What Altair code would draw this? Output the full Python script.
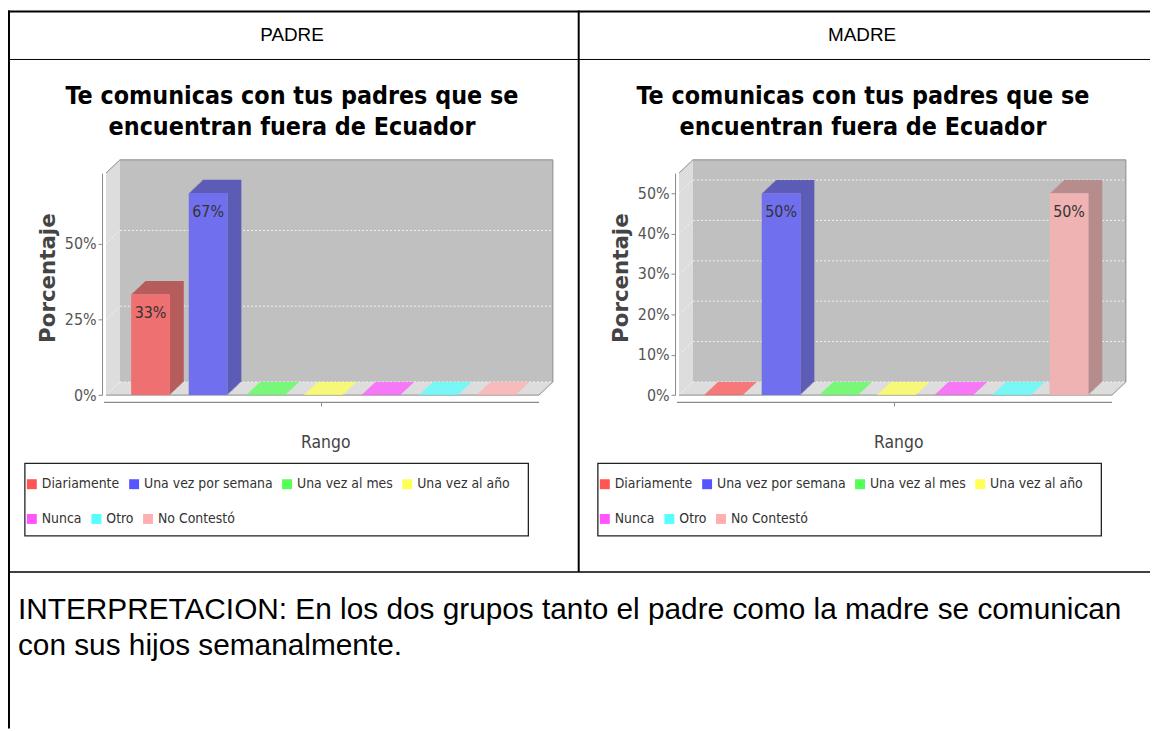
import altair as alt
import pandas as pd

# ---------------- data ----------------
categories = ["Diariamente", "Una vez por semana", "Una vez al mes",
              "Una vez al año", "Nunca", "Otro", "No Contestó"]
padre_values = [0.333, 0.667, 0.0, 0.0, 0.0, 0.0, 0.0]
madre_values = [0.0, 0.5, 0.0, 0.0, 0.0, 0.0, 0.5]
padre_ticks = [0.0, 0.25, 0.5]
madre_ticks = [0.0, 0.1, 0.2, 0.3, 0.4, 0.5]
padre_max = 0.733
madre_max = 0.55
panel_headers = ["PADRE", "MADRE"]
chart_title = ["Te comunicas con tus padres que se", "encuentran fuera de Ecuador"]
x_title = ["Rango"]
y_title = ["Porcentaje"]
interpretation = ["INTERPRETACION: En los dos grupos tanto el padre como la madre se comunican",
                  "con sus hijos semanalmente."]
series_colors = ["#ff5555", "#5555ff", "#55ff55", "#ffff55", "#ff55ff", "#55ffff", "#ffafaf"]

# ---------------- style / layout ----------------
COND = "DejaVu Sans Condensed, sans-serif"
SANS = "Liberation Sans, Arial, sans-serif"
M = 8  # page margin


def P(v):
    return v - M


def shade(hexc, f=0.7, a=0.75, bg=192):
    h = hexc.lstrip("#")
    rgb = [int(h[i:i + 2], 16) for i in (0, 2, 4)]
    out = [round(a * c * f + (1 - a) * bg) for c in rgb]
    return "#" + "".join(f"{c:02x}" for c in out)


dark_colors = [shade(c) for c in series_colors]

AXIS_X = 102.7
FL, FR = 106.7, 542.7
FB, FT = 395.3, 171.7
DX, DY = 14.0, 13.3
XR0, XR1 = 122.5, 528.5
STEP = (XR1 - XR0) / 7
BW = 39.0
PI = 1 - BW / STEP
H = FB - FT
W = FR - FL

dummy = pd.DataFrame({"d": [0]})


def dark_fill():
    cond = alt.when(alt.datum.cat == categories[0]).then(alt.value(dark_colors[0]))
    for c, d in zip(categories[1:], dark_colors[1:]):
        cond = cond.when(alt.datum.cat == c).then(alt.value(d))
    return cond.otherwise(alt.value("#888888"))


def legend_def(x, y, values):
    return alt.Legend(orient="none", legendX=x, legendY=y, values=values,
                      direction="horizontal", columns=len(values),
                      columnPadding=7, symbolType="square",
                      symbolSize=100, symbolStrokeWidth=0, symbolOpacity=1,
                      labelFont=COND, labelFontSize=14, labelColor="#333333",
                      labelOffset=3, title=None, padding=0, labelLimit=400)


def panel(header, values, ticks, ymax, off, hcx, tcx):
    df = pd.DataFrame({"cat": categories, "value": values})
    df["label"] = [f"{round(v * 100)}%" for v in values]
    tdf = pd.DataFrame({"tick": ticks})

    xsc = alt.Scale(domain=categories, range=[P(XR0 + off), P(XR1 + off)],
                    paddingInner=PI, paddingOuter=PI / 2)
    ysc = alt.Scale(domain=[0, ymax], range=[P(FB), P(FT)], nice=False, zero=True)
    yax = alt.Axis(orient="left", offset=-P(AXIS_X + off), values=ticks, format=".0%",
                   domainColor="#8a8a8a", tickColor="#8a8a8a", tickSize=4,
                   labelFont=COND, labelFontSize=16, labelColor="#555555",
                   labelPadding=2, grid=False, title=None)

    def X(**kw):
        return alt.X("cat:N", scale=xsc, axis=None, sort=categories, **kw)

    def Y(field="value"):
        return alt.Y(f"{field}:Q", scale=ysc, axis=yax)

    # legend row 1 (color) and row 2 (fill); fill domain is rotated so that the
    # two legends are not merged into one
    colorenc = alt.Color("cat:N", scale=alt.Scale(domain=categories, range=series_colors),
                         legend=legend_def(P(25 + off), P(478), categories[:4]))
    rot_dom = categories[4:] + categories[:4]
    rot_rng = series_colors[4:] + series_colors[:4]
    fillenc = alt.Fill("cat:N", scale=alt.Scale(domain=rot_dom, range=rot_rng),
                       legend=legend_def(P(25 + off), P(513), categories[4:]))

    layers = []
    # frame: left wall, back wall, floor
    layers.append(alt.Chart(dummy).mark_point(
        shape=f"M0,0L0,{-H:.1f}L{DX},{-H - DY:.1f}L{DX},{-DY}Z", size=4, filled=True,
        color="#dddddd", opacity=1, strokeWidth=0
    ).encode(x=alt.value(P(FL + off)), y=alt.value(P(FB))))
    layers.append(alt.Chart(dummy).mark_rect(color="#c0c0c0").encode(
        x=alt.value(P(FL + DX + off)), x2=alt.value(P(FR + DX + off)),
        y=alt.value(P(FT - DY)), y2=alt.value(P(FB - DY))))
    layers.append(alt.Chart(dummy).mark_point(
        shape=f"M0,0L{W:.1f},0L{W + DX:.1f},{-DY}L{DX},{-DY}Z", size=4, filled=True,
        color="#dddddd", opacity=1, strokeWidth=0
    ).encode(x=alt.value(P(FL + off)), y=alt.value(P(FB))))
    # grid lines on back wall and left wall
    layers.append(alt.Chart(tdf).mark_rule(color="#f2f2f2", strokeDash=[2, 2], strokeWidth=1,
                                           yOffset=-DY).encode(
        x=alt.value(P(FL + DX + off)), x2=alt.value(P(FR + DX + off)), y=Y("tick")))
    layers.append(alt.Chart(tdf).mark_rule(color="#f2f2f2", strokeDash=[2, 2], strokeWidth=1,
                                           y2Offset=-DY).encode(
        x=alt.value(P(FL + off)), x2=alt.value(P(FL + DX + off)), y=Y("tick"),
        y2=alt.Y2("tick:Q")))
    # outline
    layers.append(alt.Chart(dummy).mark_point(
        shape=f"M0,{-H:.1f}L{DX},{-H - DY:.1f}L{W + DX:.1f},{-H - DY:.1f}L{W + DX:.1f},{-DY}L{W:.1f},0L0,0",
        size=4, filled=False, color="#8a8a8a", strokeWidth=1, opacity=1
    ).encode(x=alt.value(P(FL + off)), y=alt.value(P(FB))))
    # category axis line + tick
    layers.append(alt.Chart(dummy).mark_rule(color="#8a8a8a", strokeWidth=1.2).encode(
        x=alt.value(P(AXIS_X + 2 + off)), x2=alt.value(P(FR + off)), y=alt.value(P(402.7))))
    layers.append(alt.Chart(dummy).mark_rule(color="#8a8a8a", strokeWidth=1).encode(
        x=alt.value(P((AXIS_X + 2 + FR) / 2 + off)), y=alt.value(P(402.7)), y2=alt.value(P(406.7))))
    # zero-height bars: top face only
    layers.append(alt.Chart(df).transform_filter("datum.value == 0").mark_point(
        shape=f"M0,0L{BW},0L{BW + DX},{-DY}L{DX},{-DY}Z", size=4, filled=True,
        opacity=0.75, strokeWidth=0
    ).encode(x=X(bandPosition=0), y=Y(), fill=fillenc))
    # 3D depth of bars
    n = 14
    for k in range(n, 0, -1):
        layers.append(alt.Chart(df).transform_filter("datum.value > 0").mark_bar(
            xOffset=k * DX / n, yOffset=-k * DY / n
        ).encode(x=X(), y=Y(), fill=dark_fill()))
    layers.append(alt.Chart(df).transform_filter("datum.value > 0").mark_bar(
        color="#c0c0c0").encode(x=X(), y=Y()))
    layers.append(alt.Chart(df).transform_filter("datum.value > 0").mark_bar(
        opacity=0.75).encode(x=X(), y=Y(), color=colorenc))
    layers.append(alt.Chart(df).transform_filter("datum.value > 0").mark_text(
        baseline="alphabetic", dy=24, font=COND, fontSize=16, color="#333333"
    ).encode(x=X(), y=Y(), text="label:N"))
    # texts
    layers.append(alt.Chart(pd.DataFrame({"t": [header]})).mark_text(
        font=SANS, fontSize=19, color="#000000", align="center", baseline="alphabetic"
    ).encode(x=alt.value(P(hcx)), y=alt.value(P(38.3)), text="t:N"))
    layers.append(alt.Chart(pd.DataFrame({"t": ["\n".join(chart_title)]})).mark_text(
        font=COND, fontWeight="bold", fontSize=25, color="#000000", align="center",
        baseline="alphabetic", lineBreak="\n", lineHeight=31.7
    ).encode(x=alt.value(P(tcx)), y=alt.value(P(101.7)), text="t:N"))
    layers.append(alt.Chart(pd.DataFrame({"t": y_title})).mark_text(
        font="DejaVu Sans", fontWeight="bold", fontSize=21.5, color="#444444", angle=270,
        align="center", baseline="middle"
    ).encode(x=alt.value(P(49 + off)), y=alt.value(P(277.5)), text="t:N"))
    layers.append(alt.Chart(pd.DataFrame({"t": x_title})).mark_text(
        font=COND, fontSize=17.5, color="#444444", align="center", baseline="alphabetic"
    ).encode(x=alt.value(P(328 + off)), y=alt.value(P(448.3)), text="t:N"))
    # legend frame
    layers.append(alt.Chart(dummy).mark_rect(fillOpacity=0, stroke="#222222", strokeWidth=1.3).encode(
        x=alt.value(P(25 + off)), x2=alt.value(P(532 + off)),
        y=alt.value(P(464)), y2=alt.value(P(537))))
    return alt.layer(*layers)


left = panel(panel_headers[0], padre_values, padre_ticks, padre_max, 0, 294, 294)
right = panel(panel_headers[1], madre_values, madre_ticks, madre_max, 577, 868, 869)

# table lines + interpretation
VW, VH = 1150, 723
table = []
table.append(alt.Chart(dummy).mark_rule(color="#000000", strokeWidth=2).encode(
    x=alt.value(0), x2=alt.value(VW), y=alt.value(1)))
table.append(alt.Chart(dummy).mark_rule(color="#000000", strokeWidth=2).encode(
    x=alt.value(1), y=alt.value(0), y2=alt.value(VH)))
table.append(alt.Chart(dummy).mark_rule(color="#000000", strokeWidth=1).encode(
    x=alt.value(0), x2=alt.value(VW), y=alt.value(P(57.3))))
table.append(alt.Chart(dummy).mark_rule(color="#000000", strokeWidth=2).encode(
    x=alt.value(P(582.7)), y=alt.value(0), y2=alt.value(P(573.3))))
table.append(alt.Chart(dummy).mark_rule(color="#000000", strokeWidth=1.5).encode(
    x=alt.value(0), x2=alt.value(VW), y=alt.value(P(573.3))))
table.append(alt.Chart(pd.DataFrame({"t": ["\n".join(interpretation)]})).mark_text(
    font=SANS, fontSize=30, color="#000000", align="left", baseline="alphabetic",
    lineBreak="\n", lineHeight=36
).encode(x=alt.value(P(18)), y=alt.value(P(621)), text="t:N"))
table_layer = alt.layer(*table)

chart = alt.layer(left, right, table_layer).resolve_scale(
    x="independent", y="independent", color="independent", fill="independent"
).properties(
    width=VW, height=VH, padding=0, autosize=alt.AutoSizeParams(type="none")
).configure_view(stroke=None)

chart.save("out.html", embed_options={"renderer": "svg", "actions": False})
